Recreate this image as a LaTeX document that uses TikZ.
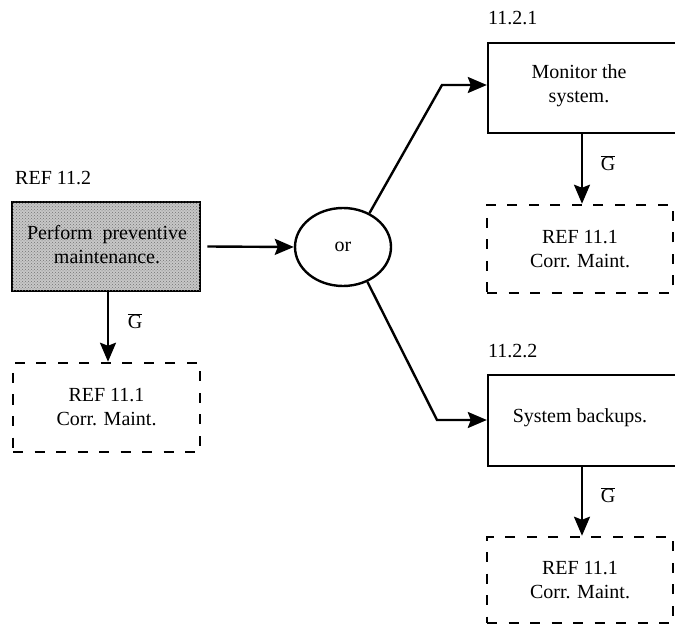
\documentclass[tikz,border=0pt]{standalone}
\usepackage{fontspec}
\setmainfont{Liberation Serif}
\usetikzlibrary{arrows.meta,shapes.geometric,patterns}
\tikzset{
  every node/.style={font=\fontsize{20}{24}\selectfont, inner sep=0pt},
  solidbox/.style={draw, line width=2.4pt, rectangle},
  shadebox/.style={draw, line width=2.6pt, rectangle, fill=black!22,
    postaction={pattern=crosshatch dots, pattern color=black!55}},
  dashbox/.style={draw, line width=2.5pt, rectangle, dash pattern=on 10pt off 11.5pt},
  orbubble/.style={draw, line width=2.4pt, ellipse},
  arr/.style={line width=2.4pt, -{Stealth[length=19pt,width=16pt,inset=3pt]}},
}
\begin{document}
\begin{tikzpicture}[x=1pt,y=-1pt]
\useasboundingbox (0,0) rectangle (675,628);
% left column
\node[anchor=base west] (lref) at (15,185) {REF 11.2};
\node[shadebox, minimum width=188pt, minimum height=89pt] (sh) at (106,246.5) {};
\node[align=center] (sht) at (107,245) {Perform\hspace{5pt} preventive\\maintenance.};
\node[dashbox, minimum width=187pt, minimum height=89pt, align=center] (ld) at (106.5,407.5)
  {REF 11.1\\Corr. Maint.};
\node (g1) at (135,321) {$\overline{\hbox{G}}$};
% or
\node[orbubble, minimum width=96pt, minimum height=78pt] (or) at (343,247) {or};
% top right
\node[anchor=base west] (l1) at (488,25) {11.2.1};
\node[solidbox, minimum width=192pt, minimum height=90pt] (m) at (584,88) {};
\node[align=center] (mt) at (579,86) {Monitor the\\system.};
\node[dashbox, minimum width=186pt, minimum height=88pt, align=center] (d1) at (580,249)
  {REF 11.1\\Corr. Maint.};
\node (g2) at (608,163) {$\overline{\hbox{G}}$};
% bottom right
\node[anchor=base west] (l2) at (488,358) {11.2.2};
\node[solidbox, minimum width=192pt, minimum height=91pt] (b) at (584,420.5) {};
\node (bt) at (580,418) {System backups.};
\node[dashbox, minimum width=186pt, minimum height=86pt, align=center] (d2) at (580,580)
  {REF 11.1\\Corr. Maint.};
\node (g3) at (608,495) {$\overline{\hbox{G}}$};
% connectors
\draw[arr] ([xshift=6pt]sh.east) -- (or.west);
\draw[arr] ([xshift=2pt]sh.south) -- ([xshift=1.5pt]ld.north);
\draw[arr] ([xshift=-2pt]m.south) -- ([xshift=2pt]d1.north);
\draw[arr] ([xshift=-2pt]b.south) -- ([xshift=2pt]d2.north);
\coordinate (e1) at (442,85);
\coordinate (e2) at (437,420);
\draw[arr] (or.52) -- (e1) -- (m.west |- e1);
\draw[arr] (or.-55) -- (e2) -- (b.west |- e2);
\end{tikzpicture}
\end{document}
